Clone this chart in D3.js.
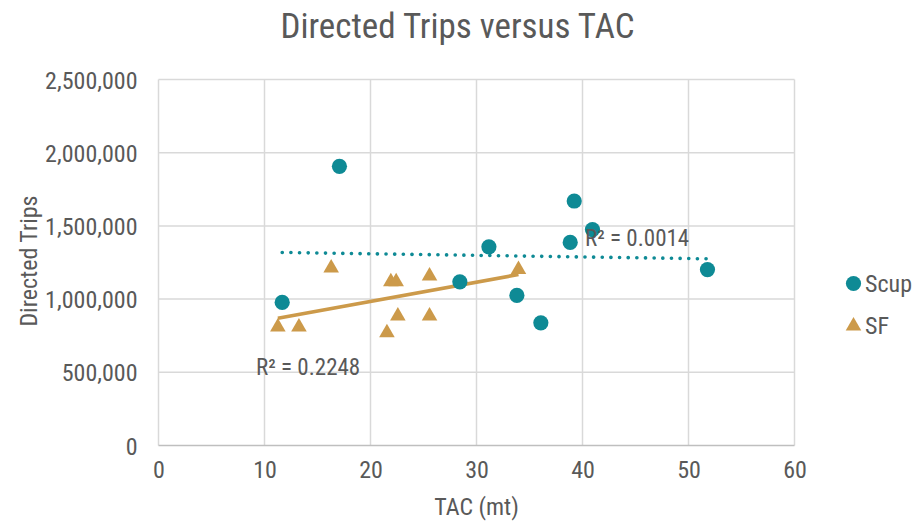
<!DOCTYPE html>
<html>
<head>
<meta charset="utf-8">
<script src="https://cdn.jsdelivr.net/npm/d3@7"></script>
<style>
  html, body { margin: 0; padding: 0; background: #fff; }
  svg text { font-family: "Liberation Sans Narrow", "Arial Narrow", "Roboto Condensed", "Liberation Sans", sans-serif; fill: #595959; }
</style>
</head>
<body>
<svg id="chart" width="912" height="524"></svg>
<script>
// TAC (mt) and directed trips per year, by species
const scupTAC   = [17.07, 11.67, 39.22, 40.94, 38.84, 31.17, 28.43, 33.81, 36.07, 51.79];
const scupTrips = [1907000, 977000, 1670000, 1475000, 1387000, 1357000, 1118000, 1025000, 838000, 1202000];
const sfTAC     = [16.29, 21.92, 22.42, 25.57, 11.26, 13.25, 22.58, 25.57, 21.55, 33.96];
const sfTrips   = [1220000, 1125000, 1125000, 1164000, 816000, 816000, 891000, 891000, 777000, 1209000];

const xTicks = [0, 10, 20, 30, 40, 50, 60];
const yTicks = [0, 500000, 1000000, 1500000, 2000000, 2500000];
const seriesNames = ["Scup", "SF"];
const r2Labels = ["R² = 0.0014", "R² = 0.2248"];

const teal = "#0E8A95";
const tan = "#CC9A4A";

const svg = d3.select("#chart");
const margin = { left: 158.5, right: 912 - 794.5, top: 79.5, bottom: 524 - 445.5 };

const x = d3.scaleLinear().domain([0, 60]).range([margin.left, 912 - margin.right]);
const y = d3.scaleLinear().domain([0, 2500000]).range([524 - margin.bottom, margin.top]);

// Gridlines
const grid = svg.append("g");
grid.selectAll("line.v").data(xTicks).join("line")
  .attr("x1", d => x(d)).attr("x2", d => x(d))
  .attr("y1", y(0)).attr("y2", y(2500000))
  .attr("stroke", "#d9d9d9").attr("stroke-width", 1.5);
grid.selectAll("line.h").data(yTicks).join("line")
  .attr("x1", x(0)).attr("x2", x(60))
  .attr("y1", d => y(d)).attr("y2", d => y(d))
  .attr("stroke", d => d === 0 ? "#bfbfbf" : "#d9d9d9").attr("stroke-width", 1.5);

// Axes (labels only)
const fmt = d3.format(",");
const yAxis = d3.axisLeft(y).tickValues(yTicks).tickFormat(fmt).tickSize(0).tickPadding(21);
const yg = svg.append("g").attr("transform", `translate(${x(0)},0)`).call(yAxis);
yg.select(".domain").remove();
yg.selectAll("text").style("font-size", "24px").attr("fill", "#595959").attr("dy", "0.36em");

const xAxis = d3.axisBottom(x).tickValues(xTicks).tickFormat(d3.format("d")).tickSize(0).tickPadding(15);
const xg = svg.append("g").attr("transform", `translate(0,${y(0)})`).call(xAxis);
xg.select(".domain").remove();
xg.selectAll("text").style("font-size", "24px").attr("fill", "#595959");

// Titles
svg.append("text").attr("x", 457.5).attr("y", 38).attr("text-anchor", "middle")
  .style("font-size", "35px").text("Directed Trips versus TAC");
svg.append("text").attr("x", x(30)).attr("y", 515).attr("text-anchor", "middle")
  .style("font-size", "24px").text("TAC (mt)");
svg.append("text").attr("transform", `translate(37,261) rotate(-90)`)
  .attr("text-anchor", "middle").style("font-size", "24px").text("Directed Trips");

// Least-squares linear fit over the data's x range
function fit(xs, ys) {
  const n = xs.length;
  const mx = d3.mean(xs), my = d3.mean(ys);
  let sxy = 0, sxx = 0;
  for (let i = 0; i < n; i++) { sxy += (xs[i] - mx) * (ys[i] - my); sxx += (xs[i] - mx) ** 2; }
  const b = sxy / sxx, a = my - b * mx;
  const x0 = d3.min(xs), x1 = d3.max(xs);
  return [[x0, a + b * x0], [x1, a + b * x1]];
}
const line = d3.line().x(d => x(d[0])).y(d => y(d[1]));

// Scup trendline (dotted)
svg.append("path").datum(fit(scupTAC, scupTrips)).attr("d", line)
  .attr("fill", "none").attr("stroke", teal).attr("stroke-width", 3.6)
  .attr("stroke-linecap", "round").attr("stroke-dasharray", "0.1 8.55");

// SF trendline (solid)
svg.append("path").datum(fit(sfTAC, sfTrips)).attr("d", line)
  .attr("fill", "none").attr("stroke", tan).attr("stroke-width", 3.6);

// Scup points
svg.append("g").selectAll("circle").data(d3.zip(scupTAC, scupTrips)).join("circle")
  .attr("cx", d => x(d[0])).attr("cy", d => y(d[1])).attr("r", 7.6).attr("fill", teal);

// SF points
const tri = d3.symbol().type(d3.symbolTriangle).size(105);
svg.append("g").selectAll("path").data(d3.zip(sfTAC, sfTrips)).join("path")
  .attr("d", tri).attr("transform", d => `translate(${x(d[0])},${y(d[1]) + 1})`).attr("fill", tan);

// R² labels
svg.append("text").attr("x", 585).attr("y", 246).style("font-size", "23px").text(r2Labels[0]);
svg.append("text").attr("x", 256).attr("y", 375).style("font-size", "23px").text(r2Labels[1]);

// Legend
const legend = svg.append("g");
legend.append("circle").attr("cx", 853.5).attr("cy", 283.5).attr("r", 7.6).attr("fill", teal);
legend.append("text").attr("x", 865).attr("y", 292).style("font-size", "24px").text(seriesNames[0]);
legend.append("path").attr("d", tri).attr("transform", "translate(853.5,326)").attr("fill", tan);
legend.append("text").attr("x", 865).attr("y", 334).style("font-size", "24px").text(seriesNames[1]);
</script>
</body>
</html>
